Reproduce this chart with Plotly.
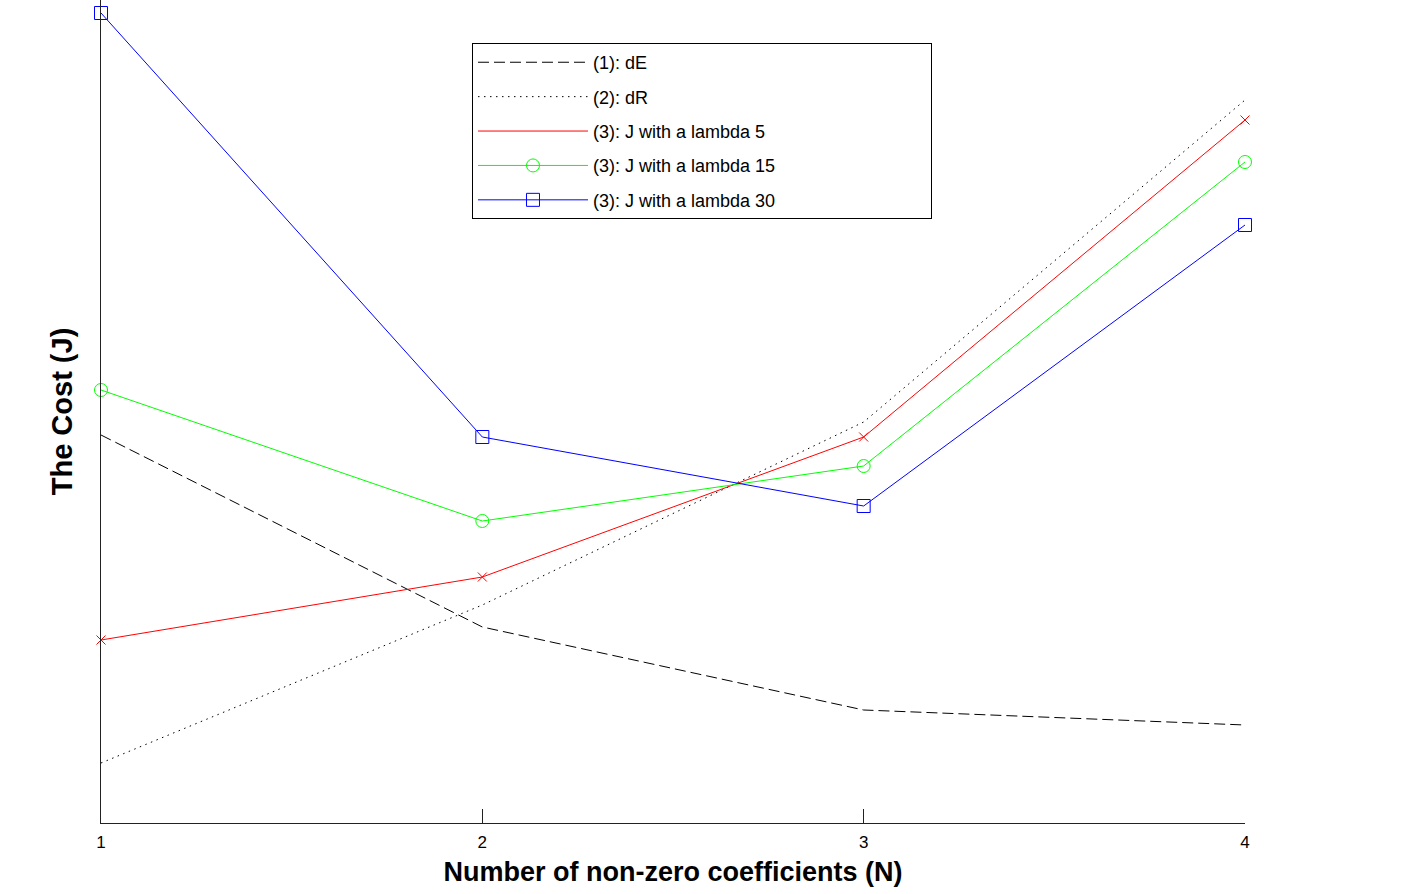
import plotly.graph_objects as go

N = [1, 2, 3, 4]
dE = [388, 196, 113, 98]
dR = [60, 218, 401, 723]
J5 = [183, 246, 386, 703]
J15 = [433, 302, 357, 661]
J30 = [810, 386, 317, 598]
x_ticks = ["1", "2", "3", "4"]
names = ["(1): dE", "(2): dR", "(3): J with a lambda 5",
         "(3): J with a lambda 15", "(3): J with a lambda 30"]

FONT = "Liberation Sans, Arial, sans-serif"
PAD = "\u00a0" * 30  # widens the legend box like the reference

fig = go.Figure()
fig.add_trace(go.Scatter(x=N, y=dE, mode="lines", name=names[0], legendgroup="g1",
                         line=dict(color="black", width=1, dash="11px,5px")))
fig.add_trace(go.Scatter(x=N, y=dR, mode="lines", name=names[1], legendgroup="g2",
                         line=dict(color="black", width=1, dash="1.5px,4.5px")))
# legend entry for lambda 5 (line only, like the reference)
fig.add_trace(go.Scatter(x=[None], y=[None], mode="lines", name=names[2],
                         legendgroup="g3", line=dict(color="#ff0000", width=1)))
fig.add_trace(go.Scatter(x=N, y=J5, mode="lines+markers", name=names[2],
                         legendgroup="g3", showlegend=False, cliponaxis=False,
                         line=dict(color="#ff0000", width=1),
                         marker=dict(symbol="x-thin", size=9, line=dict(color="#ff0000", width=1))))
fig.add_trace(go.Scatter(x=N, y=J15, mode="lines+markers", name=names[3],
                         legendgroup="g4", cliponaxis=False,
                         line=dict(color="#00ff00", width=1),
                         marker=dict(symbol="circle-open", size=13, color="#00ff00", line=dict(width=1))))
fig.add_trace(go.Scatter(x=N, y=J30, mode="lines+markers", name=names[4] + PAD,
                         legendgroup="g5", cliponaxis=False,
                         line=dict(color="#0000ff", width=1),
                         marker=dict(symbol="square-open", size=13, color="#0000ff", line=dict(width=1))))

fig.update_layout(
    width=1428, height=894,
    margin=dict(l=101, r=183, t=0, b=71),
    paper_bgcolor="white", plot_bgcolor="white",
    font=dict(family=FONT, color="black"),
    showlegend=True,
    legend=dict(x=0.3243, y=0.9477, xanchor="left", yanchor="top",
                bordercolor="black", borderwidth=1, bgcolor="white",
                font=dict(size=18, family=FONT),
                itemwidth=110, tracegroupgap=8),
    xaxis=dict(range=[1, 4], tickvals=N, ticktext=x_ticks, showgrid=False, zeroline=False,
               showline=True, linecolor="#222222", linewidth=1, ticks="inside", ticklen=14,
               tickcolor="#222222", tickfont=dict(size=17), ticklabelstandoff=4,
               title=dict(text="<b>Number of non-zero coefficients (N)</b>",
                          font=dict(size=27), standoff=10)),
    yaxis=dict(range=[0, 823], showticklabels=False, showgrid=False, zeroline=False,
               showline=True, linecolor="#222222", linewidth=1, ticks="",
               title=dict(text="<b>The Cost (J)</b>", font=dict(size=29), standoff=18)),
)

fig.write_html("out.html", config={"displayModeBar": False},
               post_script="document.body.style.margin='0';")
